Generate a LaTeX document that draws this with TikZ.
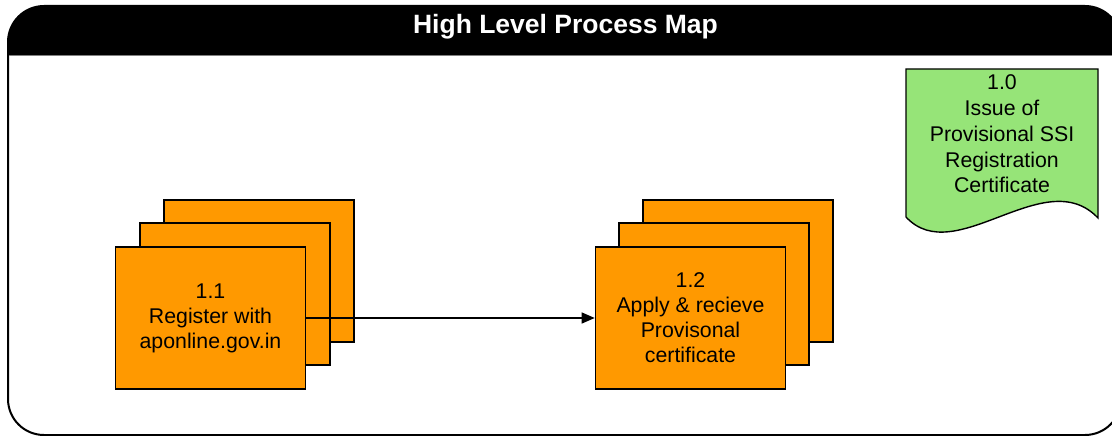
\documentclass[tikz,border=0pt]{standalone}
\usepackage{fontspec}
\setmainfont{Liberation Sans}
\usetikzlibrary{arrows.meta}
\definecolor{boxorange}{RGB}{255,153,0}
\definecolor{docgreen}{RGB}{150,228,120}
\begin{document}
\begin{tikzpicture}[x=1pt,y=-1pt,
  card/.style={draw=black, line width=1.6pt, fill=boxorange, minimum width=190pt,
    minimum height=142pt, inner sep=0pt, align=center,
    font=\fontsize{21.3}{25}\selectfont},
  frameline/.style={draw=black, line width=2pt},
  flow/.style={draw=black, line width=1.3pt, -{Triangle[length=13pt,width=11pt]}},
  doctext/.style={align=center, font=\fontsize{21.3}{25.75}\selectfont, inner sep=0pt},
  titletext/.style={text=white, font=\fontsize{26.5}{30}\selectfont\bfseries, inner sep=0pt}
]
\useasboundingbox (0,0) rectangle (1112,436);
\clip (0,0) rectangle (1112,436);
% header band
\begin{scope}
  \clip (0,0) rectangle (1112,56);
  \fill[black, rounded corners=36pt] (8,6) rectangle (1121,435);
\end{scope}
\draw[frameline, rounded corners=36pt] (8,6) rectangle (1121,435);
\draw[gray, line width=1pt] (9,56) -- (1112,56);
\node[titletext, anchor=base] (title) at (565.5,33.5) {High Level Process Map};
% stacked process 1.1
\node[card] (a11c) at (259,271) {};
\node[card] (a11b) at (235,294) {};
\node[card] (a11) at (210.5,318) {1.1\\Register with\\aponline.gov.in};
% stacked process 1.2
\node[card] (a12c) at (738,271) {};
\node[card] (a12b) at (714,294) {};
\node[card] (a12) at (690.5,318) {1.2\\Apply \& recieve\\Provisonal\\certificate};
% connector
\draw[flow] (a11.east) -- (a12.west);
% document shape
\draw[line width=1.4pt, fill=docgreen] (906,69) -- (1098,69) -- (1098,218)
  .. controls (1045,162) and (955,270) .. (906,217) -- cycle;
\node[doctext] (doc) at (1002,134) {1.0\\Issue of\\Provisional SSI\\Registration\\Certificate};
\end{tikzpicture}
\end{document}
